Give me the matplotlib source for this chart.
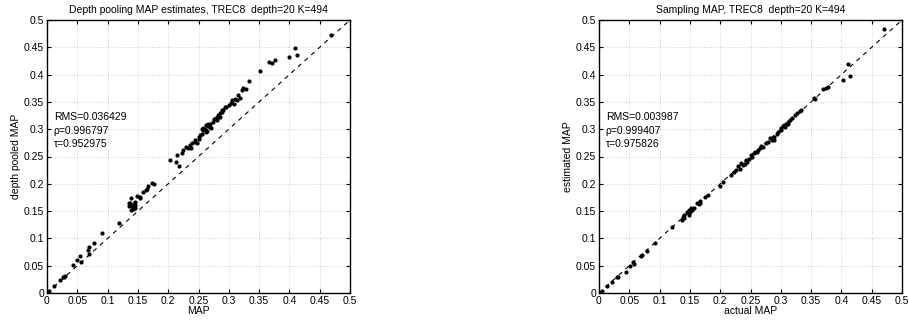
import numpy as np
import matplotlib.pyplot as plt

plt.rcParams['font.family'] = ['Liberation Sans', 'DejaVu Sans']

# left panel: actual MAP vs depth pooled MAP
pool_x = [0.003, 0.011, 0.021, 0.028, 0.029, 0.026, 0.043, 0.049, 0.055, 0.056,
          0.067, 0.070, 0.070, 0.077, 0.091, 0.118,
          0.135, 0.136, 0.138, 0.139, 0.143, 0.146, 0.146, 0.149, 0.154, 0.159,
          0.163, 0.165, 0.167, 0.174, 0.177, 0.137, 0.145, 0.140, 0.142, 0.153,
          0.203, 0.213, 0.217, 0.222, 0.214, 0.225, 0.230, 0.233, 0.236, 0.238,
          0.240, 0.244, 0.247, 0.250, 0.252, 0.255, 0.258, 0.260, 0.262, 0.264,
          0.266, 0.269, 0.271, 0.274, 0.258, 0.255, 0.266, 0.269, 0.279, 0.281,
          0.282, 0.285, 0.288, 0.293, 0.296, 0.300, 0.306, 0.308, 0.313, 0.315,
          0.319, 0.280, 0.285, 0.282, 0.288, 0.321, 0.323, 0.329, 0.333, 0.351,
          0.366, 0.372, 0.376, 0.399, 0.410, 0.412, 0.468, 0.250, 0.262, 0.245,
          0.275, 0.290, 0.303, 0.310]
pool_y = [0.003, 0.013, 0.023, 0.029, 0.032, 0.030, 0.051, 0.060, 0.067, 0.057,
          0.079, 0.084, 0.072, 0.091, 0.109, 0.128,
          0.159, 0.165, 0.174, 0.152, 0.163, 0.166, 0.155, 0.178, 0.174, 0.185,
          0.188, 0.191, 0.196, 0.201, 0.200, 0.165, 0.161, 0.159, 0.153, 0.175,
          0.244, 0.240, 0.232, 0.256, 0.252, 0.262, 0.268, 0.265, 0.271, 0.265,
          0.274, 0.280, 0.274, 0.286, 0.289, 0.292, 0.298, 0.301, 0.307, 0.297,
          0.310, 0.304, 0.303, 0.313, 0.303, 0.301, 0.305, 0.310, 0.320, 0.316,
          0.323, 0.329, 0.335, 0.340, 0.341, 0.344, 0.353, 0.347, 0.353, 0.362,
          0.358, 0.321, 0.323, 0.326, 0.332, 0.371, 0.376, 0.374, 0.388, 0.407,
          0.423, 0.422, 0.426, 0.433, 0.449, 0.435, 0.472, 0.282, 0.295, 0.276,
          0.318, 0.336, 0.348, 0.356]

# right panel: actual MAP vs sampled estimate
samp_x = [0.005, 0.013, 0.021, 0.029, 0.031, 0.045, 0.051, 0.056, 0.058, 0.069,
          0.071, 0.079, 0.093, 0.120, 0.137, 0.140, 0.141, 0.148, 0.150, 0.153,
          0.156, 0.165, 0.167, 0.138, 0.145, 0.149, 0.151, 0.162, 0.167, 0.175,
          0.180, 0.199, 0.205, 0.217, 0.223, 0.226, 0.233, 0.237, 0.241, 0.245,
          0.252, 0.255, 0.257, 0.263, 0.266, 0.271, 0.276, 0.279, 0.285, 0.288,
          0.288, 0.293, 0.301, 0.307, 0.312, 0.301, 0.304, 0.306, 0.309, 0.312,
          0.315, 0.318, 0.323, 0.326, 0.331, 0.334, 0.355, 0.356, 0.370, 0.375,
          0.378, 0.402, 0.411, 0.414, 0.471, 0.230, 0.248, 0.260, 0.268, 0.282,
          0.296, 0.243, 0.235, 0.250]
samp_y = [0.004, 0.012, 0.021, 0.029, 0.030, 0.039, 0.049, 0.057, 0.054, 0.068,
          0.070, 0.077, 0.092, 0.120, 0.134, 0.137, 0.143, 0.143, 0.149, 0.152,
          0.155, 0.163, 0.165, 0.140, 0.149, 0.152, 0.155, 0.165, 0.169, 0.176,
          0.179, 0.196, 0.204, 0.216, 0.222, 0.225, 0.228, 0.234, 0.237, 0.240,
          0.249, 0.256, 0.258, 0.262, 0.265, 0.268, 0.274, 0.277, 0.281, 0.286,
          0.280, 0.292, 0.298, 0.304, 0.310, 0.303, 0.305, 0.307, 0.310, 0.313,
          0.316, 0.320, 0.326, 0.329, 0.333, 0.336, 0.358, 0.356, 0.373, 0.376,
          0.378, 0.390, 0.419, 0.397, 0.483, 0.232, 0.246, 0.258, 0.270, 0.284,
          0.295, 0.244, 0.238, 0.252]

ticks = np.arange(0, 0.501, 0.05)
tick_labels = ['0', '0.05', '0.1', '0.15', '0.2', '0.25', '0.3', '0.35', '0.4', '0.45', '0.5']

panels = [
    (pool_x, pool_y, 'Depth pooling MAP estimates, TREC8  depth=20 K=494',
     'MAP', 'depth pooled MAP', ['RMS=0.036429', 'ρ=0.996797', 'τ=0.952975']),
    (samp_x, samp_y, 'Sampling MAP, TREC8  depth=20 K=494',
     'actual MAP', 'estimated MAP', ['RMS=0.003987', 'ρ=0.999407', 'τ=0.975826']),
]

fig = plt.figure(figsize=(9.09, 3.26), dpi=100)
lefts = [47 / 909, 599 / 909]
for left, (x, y, title, xl, yl, stats) in zip(lefts, panels):
    ax = fig.add_axes([left, 33 / 326, 303 / 909, 273 / 326])
    ax.plot([0, 0.5], [0, 0.5], 'k--', lw=0.8, dashes=(4, 4))
    ax.plot(x, y, 'k.', ms=4)
    ax.set_xlim(0, 0.5)
    ax.set_ylim(0, 0.5)
    ax.set_xticks(ticks)
    ax.set_yticks(ticks)
    ax.set_xticklabels(tick_labels)
    ax.set_yticklabels(tick_labels)
    ax.tick_params(direction='in', top=True, right=True, labelsize=7.5, length=3, pad=2)
    ax.grid(True, color='#aaaaaa', linestyle=(0, (1, 2.5)), lw=0.5)
    for s in ax.spines.values():
        s.set_linewidth(1.0)
    ax.set_title(title, fontsize=7.5, pad=5)
    ax.set_xlabel(xl, fontsize=7.5, labelpad=0)
    ax.set_ylabel(yl, fontsize=7.5, labelpad=2)
    for i, s in enumerate(stats):
        ax.text(0.011, 0.322 - i * 0.025, s, fontsize=7.5, va='center')

fig.savefig('out.png', dpi=100)
